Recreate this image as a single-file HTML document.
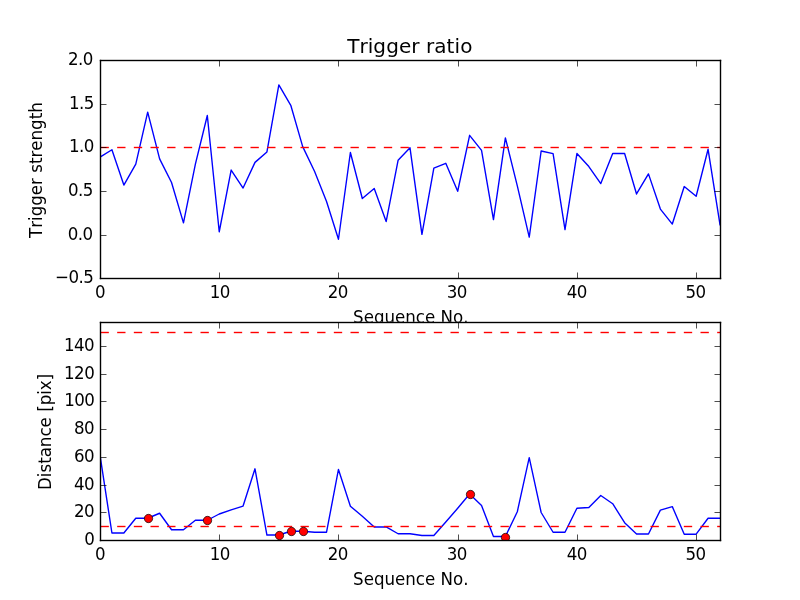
<!DOCTYPE html><html><head><meta charset="utf-8"><title>Trigger ratio</title><style>html,body{margin:0;padding:0;background:#fff;width:800px;height:600px;overflow:hidden}svg{display:block}text{font-family:"DejaVu Sans","Liberation Sans",sans-serif;fill:#000;font-kerning:none}</style></head><body>
<svg width="800" height="600" viewBox="0 0 800 600">
<rect x="0" y="0" width="800" height="600" fill="#fff"/>
<rect x="100.0" y="60.000" width="620.0" height="218.182" fill="#fff"/>
<clipPath id="c1"><rect x="100.0" y="60.000" width="620.0" height="218.182"/></clipPath>
<g clip-path="url(#c1)">
<polyline points="100.000,157.135 111.923,149.716 123.846,185.062 135.769,164.116 147.692,112.189 159.615,158.880 171.538,182.444 183.462,222.851 195.385,164.116 207.308,115.505 219.231,231.753 231.154,170.051 243.077,188.029 255.000,162.371 266.923,151.898 278.846,84.960 290.769,105.295 302.692,146.662 314.615,171.535 326.538,201.556 338.462,239.258 350.385,152.509 362.308,198.502 374.231,188.553 386.154,221.542 398.077,160.276 410.000,147.796 421.923,234.371 433.846,168.044 445.769,163.331 457.692,191.258 469.615,135.316 481.538,150.327 493.462,219.535 505.385,137.847 517.308,185.935 529.231,237.076 541.154,151.025 553.077,153.556 565.000,229.571 576.923,153.556 588.846,166.560 600.769,183.578 612.692,153.556 624.615,153.556 636.538,193.964 648.462,173.891 660.385,209.062 672.308,224.073 684.231,186.545 696.154,196.233 708.077,149.280 720.000,224.771" fill="none" stroke="#0000ff" stroke-width="1.3889" stroke-linejoin="round" stroke-linecap="square"/>
<g fill="#ff0000"><rect x="100.500" y="146.806" width="8.333" height="1.389"/><rect x="117.167" y="146.806" width="8.333" height="1.389"/><rect x="133.833" y="146.806" width="8.333" height="1.389"/><rect x="150.500" y="146.806" width="8.333" height="1.389"/><rect x="167.167" y="146.806" width="8.333" height="1.389"/><rect x="183.833" y="146.806" width="8.333" height="1.389"/><rect x="200.500" y="146.806" width="8.333" height="1.389"/><rect x="217.167" y="146.806" width="8.333" height="1.389"/><rect x="233.833" y="146.806" width="8.333" height="1.389"/><rect x="250.500" y="146.806" width="8.333" height="1.389"/><rect x="267.167" y="146.806" width="8.333" height="1.389"/><rect x="283.833" y="146.806" width="8.333" height="1.389"/><rect x="300.500" y="146.806" width="8.333" height="1.389"/><rect x="317.167" y="146.806" width="8.333" height="1.389"/><rect x="333.833" y="146.806" width="8.333" height="1.389"/><rect x="350.500" y="146.806" width="8.333" height="1.389"/><rect x="367.167" y="146.806" width="8.333" height="1.389"/><rect x="383.833" y="146.806" width="8.333" height="1.389"/><rect x="400.500" y="146.806" width="8.333" height="1.389"/><rect x="417.167" y="146.806" width="8.333" height="1.389"/><rect x="433.833" y="146.806" width="8.333" height="1.389"/><rect x="450.500" y="146.806" width="8.333" height="1.389"/><rect x="467.167" y="146.806" width="8.333" height="1.389"/><rect x="483.833" y="146.806" width="8.333" height="1.389"/><rect x="500.500" y="146.806" width="8.333" height="1.389"/><rect x="517.167" y="146.806" width="8.333" height="1.389"/><rect x="533.833" y="146.806" width="8.333" height="1.389"/><rect x="550.500" y="146.806" width="8.333" height="1.389"/><rect x="567.167" y="146.806" width="8.333" height="1.389"/><rect x="583.833" y="146.806" width="8.333" height="1.389"/><rect x="600.500" y="146.806" width="8.333" height="1.389"/><rect x="617.167" y="146.806" width="8.333" height="1.389"/><rect x="633.833" y="146.806" width="8.333" height="1.389"/><rect x="650.500" y="146.806" width="8.333" height="1.389"/><rect x="667.167" y="146.806" width="8.333" height="1.389"/><rect x="683.833" y="146.806" width="8.333" height="1.389"/><rect x="700.500" y="146.806" width="8.333" height="1.389"/><rect x="717.167" y="146.806" width="3.333" height="1.389"/></g>
</g>
<rect x="99.806" y="59.806" width="621.389" height="1.389" fill="#000"/>
<rect x="99.806" y="277.806" width="621.389" height="1.389" fill="#000"/>
<rect x="99.806" y="59.806" width="1.389" height="219.389" fill="#000"/>
<rect x="719.806" y="59.806" width="1.389" height="219.389" fill="#000"/>
<rect x="100.153" y="272.500" width="0.694" height="6.000" fill="#000"/>
<rect x="100.153" y="60.500" width="0.694" height="6.000" fill="#000"/>
<rect x="219.153" y="272.500" width="0.694" height="6.000" fill="#000"/>
<rect x="219.153" y="60.500" width="0.694" height="6.000" fill="#000"/>
<rect x="338.153" y="272.500" width="0.694" height="6.000" fill="#000"/>
<rect x="338.153" y="60.500" width="0.694" height="6.000" fill="#000"/>
<rect x="458.153" y="272.500" width="0.694" height="6.000" fill="#000"/>
<rect x="458.153" y="60.500" width="0.694" height="6.000" fill="#000"/>
<rect x="577.153" y="272.500" width="0.694" height="6.000" fill="#000"/>
<rect x="577.153" y="60.500" width="0.694" height="6.000" fill="#000"/>
<rect x="696.153" y="272.500" width="0.694" height="6.000" fill="#000"/>
<rect x="696.153" y="60.500" width="0.694" height="6.000" fill="#000"/>
<rect x="100.500" y="278.153" width="6.000" height="0.694" fill="#000"/>
<rect x="714.500" y="278.153" width="6.000" height="0.694" fill="#000"/>
<rect x="100.500" y="235.153" width="6.000" height="0.694" fill="#000"/>
<rect x="714.500" y="235.153" width="6.000" height="0.694" fill="#000"/>
<rect x="100.500" y="191.153" width="6.000" height="0.694" fill="#000"/>
<rect x="714.500" y="191.153" width="6.000" height="0.694" fill="#000"/>
<rect x="100.500" y="147.153" width="6.000" height="0.694" fill="#000"/>
<rect x="714.500" y="147.153" width="6.000" height="0.694" fill="#000"/>
<rect x="100.500" y="104.153" width="6.000" height="0.694" fill="#000"/>
<rect x="714.500" y="104.153" width="6.000" height="0.694" fill="#000"/>
<rect x="100.500" y="60.153" width="6.000" height="0.694" fill="#000"/>
<rect x="714.500" y="60.153" width="6.000" height="0.694" fill="#000"/>
<text transform="translate(99.90 298.00) scale(1 1.07)" font-size="16.667" text-anchor="middle" letter-spacing="-0.55">0</text>
<text transform="translate(219.81 298.00) scale(1 1.07)" font-size="16.667" text-anchor="middle" letter-spacing="-0.55">10</text>
<text transform="translate(337.80 298.00) scale(1 1.07)" font-size="16.667" text-anchor="middle" letter-spacing="-0.55">20</text>
<text transform="translate(456.75 298.00) scale(1 1.07)" font-size="16.667" text-anchor="middle" letter-spacing="-0.55">30</text>
<text transform="translate(576.81 298.00) scale(1 1.07)" font-size="16.667" text-anchor="middle" letter-spacing="-0.55">40</text>
<text transform="translate(695.57 298.00) scale(1 1.07)" font-size="16.667" text-anchor="middle" letter-spacing="-0.55">50</text>
<text transform="translate(410.80 323.00) scale(1 1.07)" font-size="16.667" text-anchor="middle">Sequence No.</text>
<text transform="translate(93.37 283.00) scale(1 1.07)" font-size="16.667" text-anchor="end" letter-spacing="-0.55">−0.5</text>
<text transform="translate(92.61 240.00) scale(1 1.07)" font-size="16.667" text-anchor="end" letter-spacing="-0.55">0.0</text>
<text transform="translate(92.75 196.00) scale(1 1.07)" font-size="16.667" text-anchor="end" letter-spacing="-0.55">0.5</text>
<text transform="translate(93.87 152.00) scale(1 1.07)" font-size="16.667" text-anchor="end" letter-spacing="-0.55">1.0</text>
<text transform="translate(93.84 109.00) scale(1 1.07)" font-size="16.667" text-anchor="end" letter-spacing="-0.55">1.5</text>
<text transform="translate(92.85 65.00) scale(1 1.07)" font-size="16.667" text-anchor="end" letter-spacing="-0.55">2.0</text>
<text transform="translate(42.00 170.09) rotate(-90) scale(1 1.07)" font-size="16.667" text-anchor="middle">Trigger strength</text>
<text transform="translate(409.80 53.00)" font-size="20.000" text-anchor="middle" letter-spacing="0.07">Trigger ratio</text>
<rect x="100.0" y="321.818" width="620.0" height="218.182" fill="#fff"/>
<clipPath id="c2"><rect x="100.0" y="321.818" width="620.0" height="218.182"/></clipPath>
<g clip-path="url(#c2)">
<polyline points="100.000,455.221 111.923,533.004 123.846,533.004 135.769,518.251 147.692,518.251 159.615,513.264 171.538,529.749 183.462,529.749 195.385,520.246 207.308,520.246 219.231,513.998 231.154,509.801 243.077,506.061 255.000,468.797 266.923,535.013 278.846,535.013 290.769,531.273 302.692,531.273 314.615,532.242 326.538,532.242 338.462,469.489 350.385,506.199 362.308,516.312 374.231,526.978 386.154,526.978 398.077,533.766 410.000,533.766 421.923,535.498 433.846,535.498 445.769,521.991 457.692,508.277 469.615,494.009 481.538,505.506 493.462,536.537 505.385,536.537 517.308,511.740 529.231,457.714 541.154,512.502 553.077,532.242 565.000,532.242 576.923,508.277 588.846,507.446 600.769,495.532 612.692,503.706 624.615,522.684 636.538,534.043 648.462,534.043 660.385,510.078 672.308,506.615 684.231,534.182 696.154,534.182 708.077,518.251 720.000,518.251" fill="none" stroke="#0000ff" stroke-width="1.3889" stroke-linejoin="round" stroke-linecap="square"/>
<g fill="#ff0000"><rect x="100.500" y="331.806" width="8.333" height="1.389"/><rect x="117.167" y="331.806" width="8.333" height="1.389"/><rect x="133.833" y="331.806" width="8.333" height="1.389"/><rect x="150.500" y="331.806" width="8.333" height="1.389"/><rect x="167.167" y="331.806" width="8.333" height="1.389"/><rect x="183.833" y="331.806" width="8.333" height="1.389"/><rect x="200.500" y="331.806" width="8.333" height="1.389"/><rect x="217.167" y="331.806" width="8.333" height="1.389"/><rect x="233.833" y="331.806" width="8.333" height="1.389"/><rect x="250.500" y="331.806" width="8.333" height="1.389"/><rect x="267.167" y="331.806" width="8.333" height="1.389"/><rect x="283.833" y="331.806" width="8.333" height="1.389"/><rect x="300.500" y="331.806" width="8.333" height="1.389"/><rect x="317.167" y="331.806" width="8.333" height="1.389"/><rect x="333.833" y="331.806" width="8.333" height="1.389"/><rect x="350.500" y="331.806" width="8.333" height="1.389"/><rect x="367.167" y="331.806" width="8.333" height="1.389"/><rect x="383.833" y="331.806" width="8.333" height="1.389"/><rect x="400.500" y="331.806" width="8.333" height="1.389"/><rect x="417.167" y="331.806" width="8.333" height="1.389"/><rect x="433.833" y="331.806" width="8.333" height="1.389"/><rect x="450.500" y="331.806" width="8.333" height="1.389"/><rect x="467.167" y="331.806" width="8.333" height="1.389"/><rect x="483.833" y="331.806" width="8.333" height="1.389"/><rect x="500.500" y="331.806" width="8.333" height="1.389"/><rect x="517.167" y="331.806" width="8.333" height="1.389"/><rect x="533.833" y="331.806" width="8.333" height="1.389"/><rect x="550.500" y="331.806" width="8.333" height="1.389"/><rect x="567.167" y="331.806" width="8.333" height="1.389"/><rect x="583.833" y="331.806" width="8.333" height="1.389"/><rect x="600.500" y="331.806" width="8.333" height="1.389"/><rect x="617.167" y="331.806" width="8.333" height="1.389"/><rect x="633.833" y="331.806" width="8.333" height="1.389"/><rect x="650.500" y="331.806" width="8.333" height="1.389"/><rect x="667.167" y="331.806" width="8.333" height="1.389"/><rect x="683.833" y="331.806" width="8.333" height="1.389"/><rect x="700.500" y="331.806" width="8.333" height="1.389"/><rect x="717.167" y="331.806" width="3.333" height="1.389"/></g>
<g fill="#ff0000"><rect x="100.500" y="525.806" width="8.333" height="1.389"/><rect x="117.167" y="525.806" width="8.333" height="1.389"/><rect x="133.833" y="525.806" width="8.333" height="1.389"/><rect x="150.500" y="525.806" width="8.333" height="1.389"/><rect x="167.167" y="525.806" width="8.333" height="1.389"/><rect x="183.833" y="525.806" width="8.333" height="1.389"/><rect x="200.500" y="525.806" width="8.333" height="1.389"/><rect x="217.167" y="525.806" width="8.333" height="1.389"/><rect x="233.833" y="525.806" width="8.333" height="1.389"/><rect x="250.500" y="525.806" width="8.333" height="1.389"/><rect x="267.167" y="525.806" width="8.333" height="1.389"/><rect x="283.833" y="525.806" width="8.333" height="1.389"/><rect x="300.500" y="525.806" width="8.333" height="1.389"/><rect x="317.167" y="525.806" width="8.333" height="1.389"/><rect x="333.833" y="525.806" width="8.333" height="1.389"/><rect x="350.500" y="525.806" width="8.333" height="1.389"/><rect x="367.167" y="525.806" width="8.333" height="1.389"/><rect x="383.833" y="525.806" width="8.333" height="1.389"/><rect x="400.500" y="525.806" width="8.333" height="1.389"/><rect x="417.167" y="525.806" width="8.333" height="1.389"/><rect x="433.833" y="525.806" width="8.333" height="1.389"/><rect x="450.500" y="525.806" width="8.333" height="1.389"/><rect x="467.167" y="525.806" width="8.333" height="1.389"/><rect x="483.833" y="525.806" width="8.333" height="1.389"/><rect x="500.500" y="525.806" width="8.333" height="1.389"/><rect x="517.167" y="525.806" width="8.333" height="1.389"/><rect x="533.833" y="525.806" width="8.333" height="1.389"/><rect x="550.500" y="525.806" width="8.333" height="1.389"/><rect x="567.167" y="525.806" width="8.333" height="1.389"/><rect x="583.833" y="525.806" width="8.333" height="1.389"/><rect x="600.500" y="525.806" width="8.333" height="1.389"/><rect x="617.167" y="525.806" width="8.333" height="1.389"/><rect x="633.833" y="525.806" width="8.333" height="1.389"/><rect x="650.500" y="525.806" width="8.333" height="1.389"/><rect x="667.167" y="525.806" width="8.333" height="1.389"/><rect x="683.833" y="525.806" width="8.333" height="1.389"/><rect x="700.500" y="525.806" width="8.333" height="1.389"/><rect x="717.167" y="525.806" width="3.333" height="1.389"/></g>
<circle cx="148.5" cy="518.5" r="4.1667" fill="#ff0000" stroke="#000" stroke-width="0.6944"/>
<circle cx="207.5" cy="520.5" r="4.1667" fill="#ff0000" stroke="#000" stroke-width="0.6944"/>
<circle cx="279.5" cy="535.5" r="4.1667" fill="#ff0000" stroke="#000" stroke-width="0.6944"/>
<circle cx="291.5" cy="531.5" r="4.1667" fill="#ff0000" stroke="#000" stroke-width="0.6944"/>
<circle cx="303.5" cy="531.5" r="4.1667" fill="#ff0000" stroke="#000" stroke-width="0.6944"/>
<circle cx="470.5" cy="494.5" r="4.1667" fill="#ff0000" stroke="#000" stroke-width="0.6944"/>
<circle cx="505.5" cy="537.5" r="4.1667" fill="#ff0000" stroke="#000" stroke-width="0.6944"/>
</g>
<rect x="99.806" y="321.806" width="621.389" height="1.389" fill="#000"/>
<rect x="99.806" y="539.806" width="621.389" height="1.389" fill="#000"/>
<rect x="99.806" y="321.806" width="1.389" height="219.389" fill="#000"/>
<rect x="719.806" y="321.806" width="1.389" height="219.389" fill="#000"/>
<rect x="100.153" y="534.500" width="0.694" height="6.000" fill="#000"/>
<rect x="100.153" y="322.500" width="0.694" height="6.000" fill="#000"/>
<rect x="219.153" y="534.500" width="0.694" height="6.000" fill="#000"/>
<rect x="219.153" y="322.500" width="0.694" height="6.000" fill="#000"/>
<rect x="338.153" y="534.500" width="0.694" height="6.000" fill="#000"/>
<rect x="338.153" y="322.500" width="0.694" height="6.000" fill="#000"/>
<rect x="458.153" y="534.500" width="0.694" height="6.000" fill="#000"/>
<rect x="458.153" y="322.500" width="0.694" height="6.000" fill="#000"/>
<rect x="577.153" y="534.500" width="0.694" height="6.000" fill="#000"/>
<rect x="577.153" y="322.500" width="0.694" height="6.000" fill="#000"/>
<rect x="696.153" y="534.500" width="0.694" height="6.000" fill="#000"/>
<rect x="696.153" y="322.500" width="0.694" height="6.000" fill="#000"/>
<rect x="100.500" y="540.153" width="6.000" height="0.694" fill="#000"/>
<rect x="714.500" y="540.153" width="6.000" height="0.694" fill="#000"/>
<rect x="100.500" y="512.153" width="6.000" height="0.694" fill="#000"/>
<rect x="714.500" y="512.153" width="6.000" height="0.694" fill="#000"/>
<rect x="100.500" y="485.153" width="6.000" height="0.694" fill="#000"/>
<rect x="714.500" y="485.153" width="6.000" height="0.694" fill="#000"/>
<rect x="100.500" y="457.153" width="6.000" height="0.694" fill="#000"/>
<rect x="714.500" y="457.153" width="6.000" height="0.694" fill="#000"/>
<rect x="100.500" y="429.153" width="6.000" height="0.694" fill="#000"/>
<rect x="714.500" y="429.153" width="6.000" height="0.694" fill="#000"/>
<rect x="100.500" y="401.153" width="6.000" height="0.694" fill="#000"/>
<rect x="714.500" y="401.153" width="6.000" height="0.694" fill="#000"/>
<rect x="100.500" y="374.153" width="6.000" height="0.694" fill="#000"/>
<rect x="714.500" y="374.153" width="6.000" height="0.694" fill="#000"/>
<rect x="100.500" y="346.153" width="6.000" height="0.694" fill="#000"/>
<rect x="714.500" y="346.153" width="6.000" height="0.694" fill="#000"/>
<text transform="translate(99.90 560.00) scale(1 1.07)" font-size="16.667" text-anchor="middle" letter-spacing="-0.55">0</text>
<text transform="translate(219.81 560.00) scale(1 1.07)" font-size="16.667" text-anchor="middle" letter-spacing="-0.55">10</text>
<text transform="translate(337.80 560.00) scale(1 1.07)" font-size="16.667" text-anchor="middle" letter-spacing="-0.55">20</text>
<text transform="translate(456.75 560.00) scale(1 1.07)" font-size="16.667" text-anchor="middle" letter-spacing="-0.55">30</text>
<text transform="translate(576.81 560.00) scale(1 1.07)" font-size="16.667" text-anchor="middle" letter-spacing="-0.55">40</text>
<text transform="translate(695.57 560.00) scale(1 1.07)" font-size="16.667" text-anchor="middle" letter-spacing="-0.55">50</text>
<text transform="translate(410.80 585.00) scale(1 1.07)" font-size="16.667" text-anchor="middle">Sequence No.</text>
<text transform="translate(94.26 545.00) scale(1 1.07)" font-size="16.667" text-anchor="end" letter-spacing="-0.55">0</text>
<text transform="translate(93.98 517.00) scale(1 1.07)" font-size="16.667" text-anchor="end" letter-spacing="-0.55">20</text>
<text transform="translate(94.05 490.00) scale(1 1.07)" font-size="16.667" text-anchor="end" letter-spacing="-0.55">40</text>
<text transform="translate(94.03 462.00) scale(1 1.07)" font-size="16.667" text-anchor="end" letter-spacing="-0.55">60</text>
<text transform="translate(94.00 434.00) scale(1 1.07)" font-size="16.667" text-anchor="end" letter-spacing="-0.55">80</text>
<text transform="translate(94.35 406.00) scale(1 1.07)" font-size="16.667" text-anchor="end" letter-spacing="-0.55">100</text>
<text transform="translate(94.19 379.00) scale(1 1.07)" font-size="16.667" text-anchor="end" letter-spacing="-0.55">120</text>
<text transform="translate(94.11 351.00) scale(1 1.07)" font-size="16.667" text-anchor="end" letter-spacing="-0.55">140</text>
<text transform="translate(51.00 431.91) rotate(-90) scale(1 1.07)" font-size="16.667" text-anchor="middle">Distance [pix]</text>
</svg></body></html>
